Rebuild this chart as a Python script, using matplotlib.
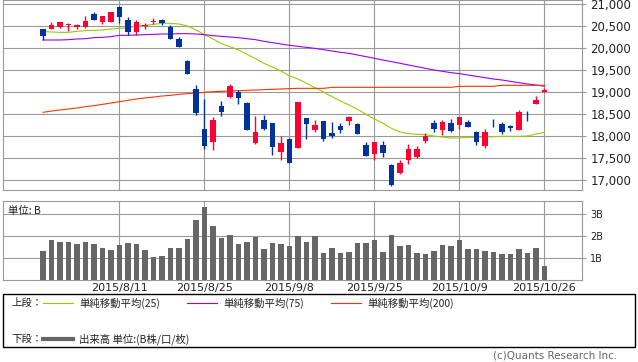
"""Nikkei-style candlestick chart with moving averages and volume panel."""
import matplotlib
matplotlib.use("Agg")
import matplotlib.pyplot as plt
from matplotlib.lines import Line2D
from matplotlib.patches import Rectangle

plt.rcParams["font.family"] = ["Noto Sans CJK JP", "DejaVu Sans"]

W, H = 638, 362
UP = "#FF0033"
DOWN = "#003399"
MA25_C = "#99CC00"
MA75_C = "#9900FF"
MA200_C = "#FF3300"
GRID = "#999999"
VOL_C = "#666666"

# daily OHLC, 2015/7/29 .. 2015/10/26
opens = [20424, 20439, 20477, 20530, 20470, 20477, 20773, 20598, 20598, 20932,
         20636, 20371, 20510, 20600, 20636, 20477, 20197, 19705, 19068, 18159,
         17864, 18682, 18886, 19000, 18750, 17841, 18364, 18295, 17636, 17932,
         17727, 18409, 18136, 18341, 18068, 18227, 18341, 18273, 17795, 17591,
         17795, 17341, 17159, 17455, 17523, 17886, 18295, 18136, 18295, 18250,
         18318, 18091, 17773, 18280, 18273, 18227, 18136, 18440, 18727, 19000]
highs = [20424, 20591, 20591, 20570, 20545, 20727, 20818, 20727, 20818, 20955,
         20705, 20636, 20560, 20680, 20659, 20523, 20242, 19727, 19159, 18841,
         18432, 18795, 19182, 19045, 18773, 18455, 18477, 18295, 18000, 17955,
         18773, 18409, 18364, 18341, 18318, 18295, 18455, 18295, 17864, 17864,
         17886, 17364, 17455, 17818, 17773, 18068, 18364, 18364, 18386, 18432,
         18364, 18114, 18159, 18386, 18318, 18250, 18591, 18568, 18909, 19091]
lows = [20182, 20439, 20462, 20395, 20439, 20462, 20644, 20553, 20598, 20576,
        20303, 20303, 20440, 20545, 20523, 20205, 20023, 19409, 18477, 17712,
        17682, 18455, 18864, 18727, 18136, 17818, 18136, 17568, 17455, 17386,
        17727, 17932, 18091, 17894, 17955, 18068, 18250, 18045, 17553, 17455,
        17523, 16864, 17136, 17364, 17500, 17841, 18091, 18023, 18091, 18159,
        18205, 17795, 17727, 18205, 18045, 18114, 18136, 18341, 18727, 19000]
closes = [20280, 20523, 20591, 20545, 20523, 20614, 20644, 20727, 20818, 20712,
          20371, 20591, 20520, 20612, 20561, 20205, 20023, 19409, 18523, 17773,
          18364, 18545, 19136, 18864, 18136, 18091, 18159, 17750, 17841, 17386,
          18773, 18273, 18250, 17939, 18000, 18136, 18432, 18045, 17553, 17864,
          17614, 16886, 17386, 17705, 17705, 18000, 18159, 18318, 18114, 18432,
          18205, 17864, 18091, 18270, 18091, 18182, 18545, 18430, 18818, 19045]

ma25 = [20379, 20364, 20356, 20356, 20379, 20394, 20402, 20409, 20432, 20447,
        20462, 20500, 20515, 20538, 20561, 20561, 20545, 20500, 20409, 20303,
        20205, 20098, 20030, 19955, 19856, 19758, 19652, 19568, 19477, 19364,
        19295, 19197, 19098, 19000, 18894, 18795, 18705, 18606, 18492, 18386,
        18288, 18174, 18091, 18053, 18038, 18030, 18000, 17977, 17955, 17955,
        17970, 17970, 17977, 17985, 17992, 17992, 17992, 18000, 18045, 18083]
ma75 = [20182, 20182, 20182, 20189, 20205, 20212, 20235, 20242, 20258, 20288,
        20288, 20295, 20303, 20311, 20318, 20318, 20326, 20326, 20318, 20303,
        20280, 20265, 20250, 20235, 20212, 20189, 20152, 20121, 20091, 20061,
        20038, 20015, 19992, 19962, 19932, 19902, 19879, 19841, 19803, 19765,
        19727, 19689, 19652, 19614, 19576, 19538, 19500, 19470, 19439, 19417,
        19386, 19356, 19326, 19295, 19273, 19242, 19212, 19182, 19159, 19129]
ma200 = [18538, 18568, 18591, 18614, 18636, 18667, 18689, 18720, 18750, 18780,
         18811, 18841, 18864, 18886, 18909, 18924, 18947, 18962, 18977, 18992,
         19008, 19015, 19023, 19030, 19038, 19045, 19053, 19061, 19068, 19076,
         19083, 19083, 19083, 19083, 19106, 19106, 19106, 19106, 19106, 19106,
         19106, 19106, 19106, 19106, 19106, 19106, 19106, 19106, 19106, 19129,
         19129, 19129, 19129, 19129, 19152, 19152, 19152, 19152, 19152, 19152]

# volume, billions of shares
volume = [1.32, 1.82, 1.73, 1.73, 1.64, 1.73, 1.64, 1.45, 1.36, 1.59,
          1.68, 1.64, 1.36, 1.05, 1.09, 1.45, 1.45, 1.86, 2.73, 3.32,
          2.45, 1.91, 2.05, 1.64, 1.73, 1.95, 1.41, 1.68, 1.64, 1.55,
          2.00, 1.73, 2.00, 1.23, 1.45, 1.23, 1.27, 1.68, 1.68, 1.82,
          1.27, 2.05, 1.55, 1.59, 1.23, 1.18, 1.32, 1.59, 1.55, 1.82,
          1.41, 1.41, 1.32, 1.27, 1.18, 1.18, 1.41, 1.23, 1.45, 0.64]

date_ticks = [9, 19, 29, 39, 49, 59]
date_labels = ["2015/8/11", "2015/8/25", "2015/9/8", "2015/9/25",
               "2015/10/9", "2015/10/26"]
price_ticks = [17000, 17500, 18000, 18500, 19000, 19500, 20000, 20500, 21000]
vol_ticks = [1, 2, 3]
vol_labels = ["1B", "2B", "3B"]


def fx(x):
    return x / W


def fy(y):
    return 1 - y / H


fig = plt.figure(figsize=(W / 100, H / 100), dpi=100, facecolor="white")

x = list(range(len(closes)))
xlim = ((3 - 43) / 8.5, (582 - 43) / 8.5)

# ---- price panel
ax = fig.add_axes([fx(3), fy(190), 579 / W, 190 / H])
ax.set_axisbelow(True)
for i in x:
    col = UP if closes[i] >= opens[i] else DOWN
    ax.vlines(i, lows[i], highs[i], color=col, lw=1.0, zorder=3)
    lo = min(opens[i], closes[i])
    hgt = max(abs(closes[i] - opens[i]), 12)
    ax.bar(i, hgt, bottom=lo, width=0.7, color=col, edgecolor="none", zorder=4)

ax.plot(x, ma25, color=MA25_C, lw=0.8, zorder=2)
ax.plot(x, ma75, color=MA75_C, lw=0.8, zorder=2)
ax.plot(x, ma200, color=MA200_C, lw=0.8, zorder=2)

ax.set_xlim(*xlim)
ax.set_ylim(21000 - 186 * 500 / 22, 21000 + 4 * 500 / 22)
ax.set_xticks(date_ticks)
ax.set_xticklabels([])
ax.yaxis.tick_right()
ax.set_yticks(price_ticks)
ax.set_yticklabels([f"{v:,}" for v in price_ticks], family=["DejaVu Sans"])
ax.tick_params(axis="y", length=3, color=GRID, labelsize=8.5, pad=3, labelcolor="#222222")
ax.tick_params(axis="x", length=0)
ax.grid(color=GRID, lw=0.8)
for s in ax.spines.values():
    s.set_color(GRID)
    s.set_linewidth(0.8)

# ---- volume panel
av = fig.add_axes([fx(3), fy(280), 579 / W, 79 / H])
av.set_axisbelow(True)
av.bar(x, volume, width=0.7, color=VOL_C, edgecolor="none", zorder=3)
av.set_xlim(*xlim)
av.set_ylim(0, 79 / 22)
av.set_xticks(date_ticks)
av.set_xticklabels(date_labels, family=["DejaVu Sans"], fontsize=8, color="#222222")
av.yaxis.tick_right()
av.set_yticks(vol_ticks)
av.set_yticklabels(vol_labels, family=["DejaVu Sans"])
av.tick_params(axis="y", length=3, color=GRID, labelsize=7, pad=3, labelcolor="#222222")
av.tick_params(axis="x", length=0, pad=2.5)
av.grid(color=GRID, lw=0.8)
for s in av.spines.values():
    s.set_color(GRID)
    s.set_linewidth(0.8)
av.text(0.009, 0.88, "単位: B", transform=av.transAxes, fontsize=7.5,
        ha="left", va="center", color="#222222")

# ---- legend box
fig.add_artist(Rectangle((fx(3), fy(347)), 632 / W, 53 / H, transform=fig.transFigure,
                         fill=False, edgecolor="black", lw=1.0))
rows = [
    (303, "上段：", [(43, MA25_C, "単純移動平均(25)"),
                    (187, MA75_C, "単純移動平均(75)"),
                    (331, MA200_C, "単純移動平均(200)")], 0.8),
    (339, "下段：", [(43, VOL_C, "出来高 単位:(B株/口/枚)")], 3.0),
]
for yy, head, items, lw in rows:
    fig.text(fx(11), fy(yy), head, fontsize=7.5, ha="left", va="center", color="#222222")
    for x0, col, lab in items:
        fig.add_artist(Line2D([fx(x0), fx(x0 + 30)], [fy(yy), fy(yy)], color=col, lw=lw,
                              transform=fig.transFigure))
        fig.text(fx(x0 + 36), fy(yy), lab, fontsize=7.5, ha="left", va="center",
                 color="#222222")

fig.text(fx(617), fy(356), "(c)Quants Research Inc.", fontsize=7.5, ha="right",
         va="center", color="#666666", family=["DejaVu Sans"])

fig.savefig("out.png", dpi=100, facecolor="white")
